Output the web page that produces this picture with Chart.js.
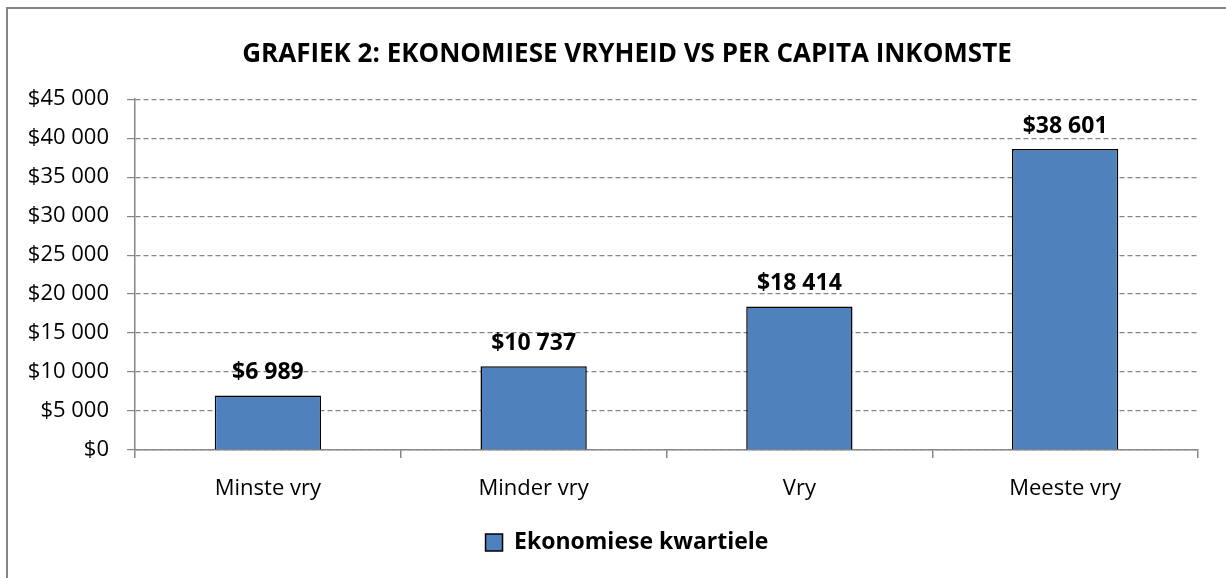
<!DOCTYPE html>
<html>
<head>
<meta charset="utf-8">
<script src="https://cdn.jsdelivr.net/npm/chart.js@4/dist/chart.umd.min.js"></script>
<style>
  html, body { margin: 0; padding: 0; background: #fff; }
  #wrap { width: 1226px; height: 578px; }
</style>
</head>
<body>
<div id="wrap"><canvas id="grafiek"></canvas></div>
<script>
// Grafiek 2: ekonomiese vryheid vs per capita inkomste
const kategoriee = ['Minste vry', 'Minder vry', 'Vry', 'Meeste vry']
const inkomste = [6989, 10737, 18414, 38601]
const reeksNaam = 'Ekonomiese kwartiele'
const titel = 'GRAFIEK 2: EKONOMIESE VRYHEID VS PER CAPITA INKOMSTE'

const LETTER = "'Open Sans', sans-serif"
const GRYS = '#868686'

// "$38 601" styl
function rand(v) {
  return '$' + String(Math.round(v)).replace(/\B(?=(\d{3})+(?!\d))/g, ' ')
}

// raam: net bo en links sigbaar (die res val buite die prent)
const raam = {
  id: 'raam',
  beforeDraw(chart) {
    const ctx = chart.ctx
    ctx.save()
    ctx.strokeStyle = GRYS
    ctx.lineWidth = 2
    ctx.beginPath()
    ctx.moveTo(7, chart.height)
    ctx.lineTo(7, 8)
    ctx.lineTo(chart.width, 8)
    ctx.stroke()
    ctx.restore()
  },
  // y-etikette mag tot by die linkerkant strek (anders word hulle afgesny)
  afterLayout(chart) {
    chart.scales.y.left = 0
  }
}

// waardes bo die stawe
const etikette = {
  id: 'etikette',
  afterDatasetsDraw(chart) {
    const ctx = chart.ctx
    const meta = chart.getDatasetMeta(0)
    ctx.save()
    ctx.font = `bold 23px ${LETTER}`
    ctx.fillStyle = '#000'
    ctx.textAlign = 'center'
    ctx.textBaseline = 'middle'
    meta.data.forEach((bar, i) => {
      ctx.fillText(rand(inkomste[i]), bar.x, bar.y - 23)
    })
    ctx.restore()
  }
}

new Chart(document.getElementById('grafiek'), {
  type: 'bar',
  data: {
    labels: kategoriee,
    datasets: [{
      label: reeksNaam,
      data: inkomste,
      backgroundColor: '#4F81BD',
      borderColor: '#000',
      borderWidth: 1.5,
      categoryPercentage: 1,
      barPercentage: 0.4
    }]
  },
  options: {
    responsive: true,
    maintainAspectRatio: false,
    animation: false,
    // links ekstra ruimte sodat titel en legende effens regs van die middel staan
    layout: { padding: { left: 56, right: 28, top: 0, bottom: 14 } },
    plugins: {
      title: {
        display: true,
        text: titel,
        color: '#000',
        font: { family: LETTER, size: 26, weight: 'bold' },
        padding: { top: 39, bottom: 29 }
      },
      legend: {
        position: 'bottom',
        labels: {
          color: '#000',
          font: { family: LETTER, size: 23, weight: 'bold' },
          boxWidth: 17,
          boxHeight: 17,
          padding: 10
        }
      },
      tooltip: { enabled: false }
    },
    scales: {
      x: {
        afterFit: s => { s.height = 71 },
        border: { color: GRYS, width: 1.5 },
        grid: {
          offset: true,
          drawOnChartArea: false,
          color: GRYS,
          lineWidth: 1.5,
          tickLength: 8
        },
        ticks: { color: '#000', padding: 18, font: { family: LETTER, size: 22 } }
      },
      y: {
        min: 0,
        max: 45000,
        afterFit: s => { s.width = 79 },
        border: { color: GRYS, width: 1.5, dash: [5, 3] },
        grid: {
          color: GRYS,
          lineWidth: 1.2,
          tickBorderDash: [],
          tickLength: 8
        },
        ticks: {
          stepSize: 5000,
          color: '#000',
          padding: 18,
          font: { family: LETTER, size: 22 },
          callback: v => rand(v)
        }
      }
    }
  },
  plugins: [raam, etikette]
})
</script>
</body>
</html>
